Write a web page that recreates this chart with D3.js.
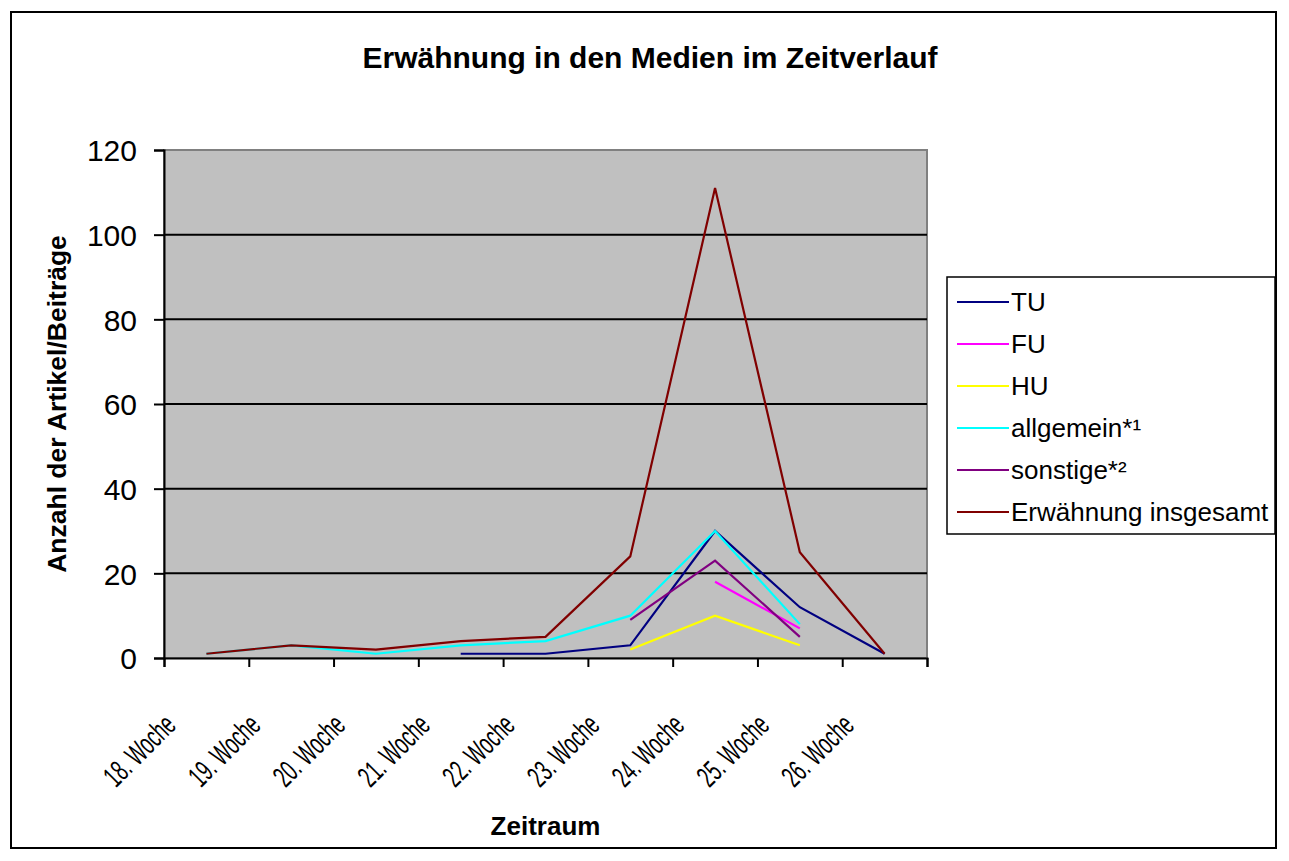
<!DOCTYPE html>
<html>
<head>
<meta charset="utf-8">
<script src="https://cdn.jsdelivr.net/npm/d3@7"></script>
<style>
  body { margin: 0; background: #fff; }
  svg { display: block; font-family: "Liberation Sans", Arial, sans-serif; }
</style>
</head>
<body>
<script>
// weeks on the x axis and the values per series (null = no value)
var weeks = ["18. Woche", "19. Woche", "20. Woche", "21. Woche", "22. Woche",
             "23. Woche", "24. Woche", "25. Woche", "26. Woche"];
var tu        = [null, null, null, 1, 1, 3, 30, 12, 1];
var fu        = [null, null, null, null, null, null, 18, 7, null];
var hu        = [null, null, null, null, null, 2, 10, 3, null];
var allgemein = [1, 3, 1, 3, 4, 10, 30, 8, null];
var sonstige  = [null, null, null, null, null, 9, 23, 5, null];
var insgesamt = [1, 3, 2, 4, 5, 24, 111, 25, 1];
var yTicks = [0, 20, 40, 60, 80, 100, 120];

var seriesNames = ["TU", "FU", "HU", "allgemein*¹", "sonstige*²", "Erwähnung insgesamt"];
var seriesValues = [tu, fu, hu, allgemein, sonstige, insgesamt];
var seriesColors = ["#000080", "#ff00ff", "#ffff00", "#00ffff", "#800080", "#800000"];

var W = 1289, H = 861;
var plot = { left: 164, top: 150, right: 927, bottom: 658 };

var svg = d3.select("body").append("svg")
    .attr("width", W)
    .attr("height", H);

// outer chart border
svg.append("rect")
    .attr("x", 11).attr("y", 12)
    .attr("width", 1265).attr("height", 836)
    .attr("fill", "#fff")
    .attr("stroke", "#000")
    .attr("stroke-width", 2);

// scales
var x = d3.scaleBand()
    .domain(weeks)
    .range([plot.left, plot.right])
    .paddingInner(0)
    .paddingOuter(0);

var xEdges = d3.scaleLinear()
    .domain([0, weeks.length])
    .range([plot.left, plot.right]);

var y = d3.scaleLinear()
    .domain([0, 120])
    .range([plot.bottom, plot.top]);

// grey plot area
svg.append("rect")
    .attr("x", plot.left).attr("y", plot.top)
    .attr("width", plot.right - plot.left)
    .attr("height", plot.bottom - plot.top)
    .attr("fill", "#c0c0c0")
    .attr("stroke", "#808080")
    .attr("stroke-width", 2);

// horizontal grid lines
svg.append("g")
    .selectAll("line")
    .data(yTicks.filter(function (d) { return d > 0 && d < 120; }))
    .enter().append("line")
    .attr("x1", plot.left).attr("x2", plot.right)
    .attr("y1", function (d) { return y(d); })
    .attr("y2", function (d) { return y(d); })
    .attr("stroke", "#000")
    .attr("stroke-width", 2);

// y axis
var yAxis = svg.append("g")
    .attr("transform", "translate(" + plot.left + ",0)")
    .call(d3.axisLeft(y).tickValues(yTicks).tickSize(10).tickPadding(17));
yAxis.select(".domain").attr("stroke-width", 2);
yAxis.selectAll(".tick line").attr("stroke-width", 2);
yAxis.selectAll("text")
    .attr("font-size", 30)
    .attr("font-family", "Liberation Sans, Arial, sans-serif")
    .attr("fill", "#000")
    .attr("dy", "0.36em");

// x axis: tick marks between the categories
var xTickAxis = svg.append("g")
    .attr("transform", "translate(0," + plot.bottom + ")")
    .call(d3.axisBottom(xEdges).ticks(weeks.length).tickSize(9).tickFormat(""));
xTickAxis.select(".domain").attr("stroke-width", 2);
xTickAxis.selectAll(".tick line").attr("stroke-width", 2);

// x axis labels, rotated and squeezed
var xLabels = svg.append("g")
    .attr("transform", "translate(0," + plot.bottom + ")")
    .call(d3.axisBottom(x).tickSize(0).tickFormat(function (d) { return d; }));
xLabels.select(".domain").remove();
xLabels.selectAll("text")
    .attr("font-size", 30)
    .attr("font-family", "Liberation Sans, Arial, sans-serif")
    .attr("fill", "#000")
    .attr("text-anchor", "end")
    .attr("textLength", 87)
    .attr("lengthAdjust", "spacingAndGlyphs")
    .attr("x", 0)
    .attr("y", 0)
    .attr("dy", 0)
    .attr("transform", "translate(-29,69) rotate(-45)");

// series lines
var line = d3.line()
    .defined(function (d) { return d != null; })
    .x(function (d, i) { return x(weeks[i]) + x.bandwidth() / 2; })
    .y(function (d) { return y(d); });

svg.append("g")
    .selectAll("path")
    .data(seriesValues)
    .enter().append("path")
    .attr("d", line)
    .attr("fill", "none")
    .attr("stroke", function (d, i) { return seriesColors[i]; })
    .attr("stroke-width", 2.2)
    .attr("stroke-linejoin", "miter");

// titles
svg.append("text")
    .attr("x", 650).attr("y", 68)
    .attr("text-anchor", "middle")
    .attr("font-size", 30)
    .attr("font-weight", "bold")
    .text("Erwähnung in den Medien im Zeitverlauf");

svg.append("text")
    .attr("x", (plot.left + plot.right) / 2).attr("y", 835)
    .attr("text-anchor", "middle")
    .attr("font-size", 26)
    .attr("font-weight", "bold")
    .text("Zeitraum");

svg.append("text")
    .attr("transform", "translate(66," + (plot.top + plot.bottom) / 2 + ") rotate(-90)")
    .attr("text-anchor", "middle")
    .attr("font-size", 26.5)
    .attr("font-weight", "bold")
    .text("Anzahl der Artikel/Beiträge");

// legend
var legend = svg.append("g");
legend.append("rect")
    .attr("x", 947).attr("y", 277)
    .attr("width", 328).attr("height", 257)
    .attr("fill", "#fff")
    .attr("stroke", "#000")
    .attr("stroke-width", 1.5);

var legendItem = legend.selectAll("g")
    .data(seriesNames)
    .enter().append("g")
    .attr("transform", function (d, i) { return "translate(0," + (302 + i * 42) + ")"; });

legendItem.append("line")
    .attr("x1", 957).attr("x2", 1009)
    .attr("stroke", function (d, i) { return seriesColors[i]; })
    .attr("stroke-width", 2);

legendItem.append("text")
    .attr("x", 1011)
    .attr("dy", "0.36em")
    .attr("font-size", 26)
    .text(function (d) { return d; });
</script>
</body>
</html>
